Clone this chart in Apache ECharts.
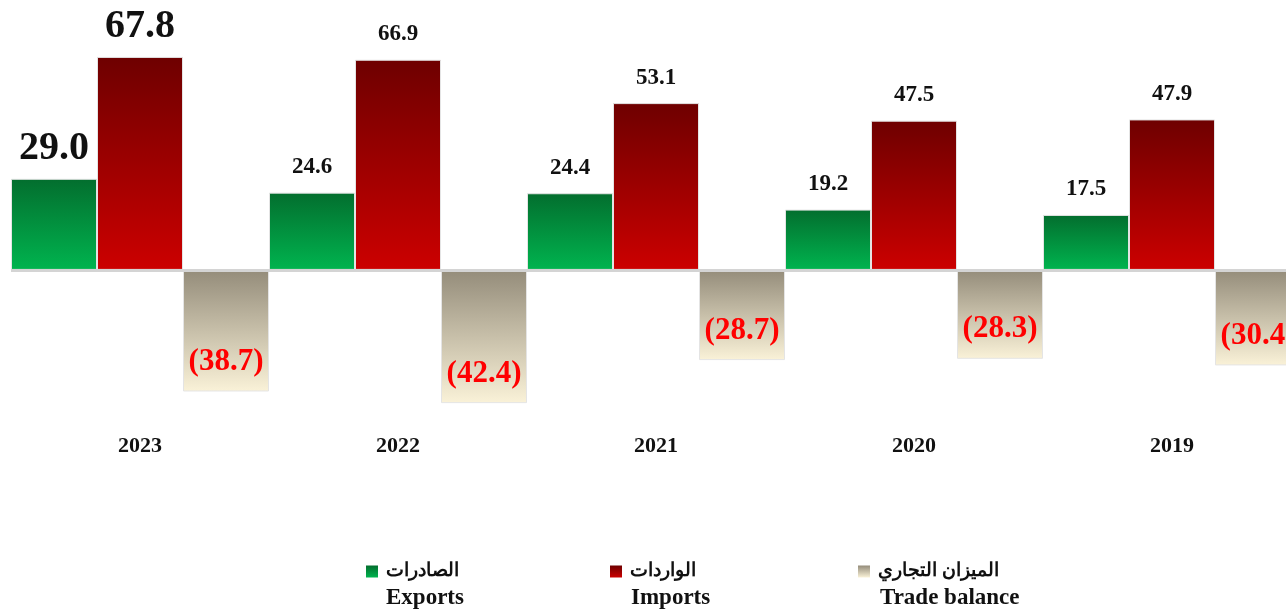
<!DOCTYPE html>
<html>
<head>
<meta charset="utf-8">
<script src="https://cdn.jsdelivr.net/npm/echarts@6/dist/echarts.min.js"></script>
<style>
  html, body { margin: 0; padding: 0; background: #fff; }
  #chart { width: 1286px; height: 615px; }
</style>
</head>
<body>
<div id="chart"></div>
<script>
var years = ['2023', '2022', '2021', '2020', '2019'];
var exportsData = [29.0, 24.6, 24.4, 19.2, 17.5];
var importsData = [67.8, 66.9, 53.1, 47.5, 47.9];
var balanceData = [-38.7, -42.4, -28.7, -28.3, -30.4];
var namesAr = ['الصادرات', 'الواردات', 'الميزان التجاري'];
var namesEn = ['Exports', 'Imports', 'Trade balance'];

var serif = '"Liberation Serif", "Times New Roman", serif';

function grad(top, bottom) {
    return new echarts.graphic.LinearGradient(0, 0, 0, 1, [
        { offset: 0, color: top },
        { offset: 1, color: bottom }
    ]);
}

// first year gets bigger labels
function withBigFirst(arr) {
    return arr.map(function (v, i) {
        if (i === 0) {
            return { value: v, label: { fontSize: 40, distance: 10 } };
        }
        return v;
    });
}

var legendLeft = [361, 605, 853];
var enLeft = [386, 631, 880];

var myChart = echarts.init(document.getElementById('chart'));

var option = {
    animation: false,
    backgroundColor: '#fff',
    grid: { left: 11, top: 50, width: 1290, height: 377, outerBoundsMode: 'none' },
    legend: namesAr.map(function (n, i) {
        return {
            left: legendLeft[i],
            top: 557,
            itemWidth: 12,
            itemHeight: 12,
            itemGap: 10,
            icon: 'rect',
            itemStyle: { borderWidth: 0 },
            data: [n],
            textStyle: { fontFamily: serif, fontWeight: 'bold', fontSize: 19, color: '#111', padding: [0, 0, 0, 3] }
        };
    }),
    graphic: namesEn.map(function (n, i) {
        return { type: 'text', left: enLeft[i], top: 587, style: { text: n, font: 'bold 23px ' + serif, fill: '#111' } };
    }),
    xAxis: {
        type: 'category',
        data: years,
        axisLine: { show: false, onZero: false },
        axisTick: { show: false },
        axisLabel: {
            margin: 8,
            fontFamily: serif,
            fontWeight: 'bold',
            fontSize: 22,
            color: '#111'
        }
    },
    yAxis: {
        type: 'value',
        min: -50,
        max: 70,
        show: false,
        splitLine: { show: false }
    },
    series: [
        {
            name: namesAr[0],
            type: 'bar',
            barGap: '0%',
            barCategoryGap: '0%',
            itemStyle: { color: grad('#036e2e', '#00b44f'), borderColor: '#e4e4e4', borderWidth: 1 },
            label: {
                show: true,
                position: 'top',
                distance: 14,
                fontFamily: serif,
                fontWeight: 'bold',
                fontSize: 23,
                color: '#111',
                formatter: function (p) { return p.value.toFixed(1); }
            },
            data: withBigFirst(exportsData),
            markLine: {
                silent: true,
                symbol: 'none',
                label: { show: false },
                lineStyle: { color: '#d4d4d4', width: 3, type: 'solid' },
                data: [{ yAxis: 0 }]
            }
        },
        {
            name: namesAr[1],
            type: 'bar',
            barGap: '0%',
            barCategoryGap: '0%',
            itemStyle: { color: grad('#6e0000', '#cc0000'), borderColor: '#e4e4e4', borderWidth: 1 },
            label: {
                show: true,
                position: 'top',
                distance: 14,
                fontFamily: serif,
                fontWeight: 'bold',
                fontSize: 23,
                color: '#111',
                formatter: function (p) { return p.value.toFixed(1); }
            },
            data: withBigFirst(importsData)
        },
        {
            name: namesAr[2],
            type: 'bar',
            barGap: '0%',
            barCategoryGap: '0%',
            itemStyle: { color: grad('#948c7a', '#faf2d8'), borderColor: '#e4e4e4', borderWidth: 1 },
            label: {
                show: true,
                position: 'insideBottom',
                distance: 14,
                fontFamily: serif,
                fontWeight: 'bold',
                fontSize: 31,
                color: '#ff0000',
                formatter: function (p) { return '(' + Math.abs(p.value).toFixed(1) + ')'; }
            },
            data: balanceData
        }
    ]
};

option && myChart.setOption(option);
</script>
</body>
</html>
